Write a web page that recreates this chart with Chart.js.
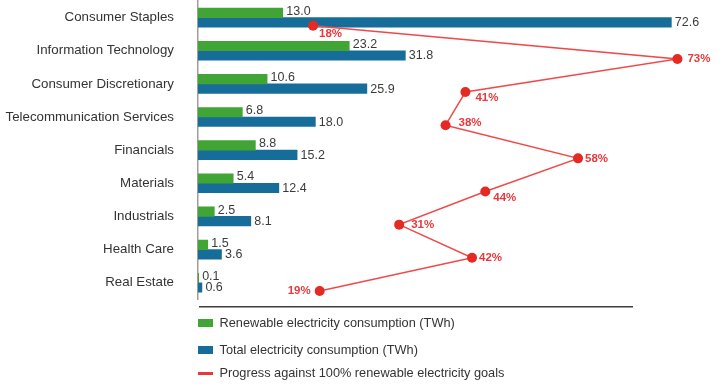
<!DOCTYPE html>
<html>
<head>
<meta charset="utf-8">
<script src="https://cdn.jsdelivr.net/npm/chart.js@4.4.1/dist/chart.umd.min.js"></script>
<style>
  html, body { margin: 0; padding: 0; background: #fff; }
  #wrap { position: relative; width: 723px; height: 392px; }
  #legend { position: absolute; left: 0; top: 0; font: 12.75px "Liberation Sans", Arial, sans-serif; color: #333; }
  .item { position: absolute; left: 198px; height: 20px; line-height: 20px; white-space: nowrap; }
  .sw { position: absolute; left: 0; }
  .txt { position: absolute; left: 21.5px; top: 0; }
</style>
</head>
<body>
<div id="wrap">
  <canvas id="chart" width="723" height="392"></canvas>
  <div id="legend"></div>
</div>
<script>
// data
const categories = ['Consumer Staples', 'Information Technology', 'Consumer Discretionary',
  'Telecommunication Services', 'Financials', 'Materials', 'Industrials', 'Health Care', 'Real Estate'];
const renewable = [13.0, 23.2, 10.6, 6.8, 8.8, 5.4, 2.5, 1.5, 0.1];
const total = [72.6, 31.8, 25.9, 18.0, 15.2, 12.4, 8.1, 3.6, 0.6];
const progress = [18, 73, 41, 38, 58, 44, 31, 42, 19];
const seriesNames = ['Renewable electricity consumption (TWh)', 'Total electricity consumption (TWh)',
  'Progress against 100% renewable electricity goals'];

const GREEN = '#40a535';
const BLUE = '#176d99';
const RED = '#e42a22';
const RED_LINE = '#ef4a4a';
const FONT = '"Liberation Sans", Arial, Helvetica, sans-serif';

// the red line sits a little below the middle of each category in the original
const LINE_DROP = 8.2;
// where each % label sits relative to its point
const pctShift = [[6, 8], [10, 0], [10, 6], [13, -2], [7, 0], [8, 6], [12, 0], [7, 0], [-9, 0]];

const labelPlugin = {
  id: 'labelPlugin',
  beforeDatasetDraw(chart, args) {
    if (args.index === 2) {
      chart.ctx.save();
      chart.ctx.translate(0, LINE_DROP);
    }
  },
  afterDatasetDraw(chart, args) {
    if (args.index === 2) chart.ctx.restore();
  },
  afterDatasetsDraw(chart) {
    const c = chart.ctx;
    const area = chart.chartArea;
    c.save();
    // bottom rule
    c.strokeStyle = '#3c3c3c';
    c.lineWidth = 1.5;
    c.beginPath();
    c.moveTo(area.left + 1, area.bottom + 7.5);
    c.lineTo(area.left + 435, area.bottom + 7.5);
    c.stroke();

    c.font = '12.5px ' + FONT;
    c.fillStyle = '#3b3b3b';
    c.textAlign = 'left';
    c.textBaseline = 'middle';
    [0, 1].forEach(di => {
      const vals = chart.data.datasets[di].data;
      const dy = di === 0 ? -1.5 : 0.5;
      chart.getDatasetMeta(di).data.forEach((bar, i) => {
        c.fillText(vals[i].toFixed(1), bar.x + 3.5, bar.y + dy);
      });
    });

    c.font = 'bold 11.5px ' + FONT;
    c.fillStyle = '#e8383c';
    chart.getDatasetMeta(2).data.forEach((pt, i) => {
      const [dx, dy] = pctShift[i];
      c.textAlign = dx < 0 ? 'right' : 'left';
      c.fillText(progress[i] + '%', pt.x + dx, pt.y + LINE_DROP + dy);
    });
    c.restore();
  }
};

const ctx = document.getElementById('chart').getContext('2d');
new Chart(ctx, {
  type: 'bar',
  data: {
    labels: categories,
    datasets: [
      { label: seriesNames[0], data: renewable, backgroundColor: GREEN, barThickness: 9.5, order: 2 },
      { label: seriesNames[1], data: total, backgroundColor: BLUE, barThickness: 9.5, order: 2 },
      {
        type: 'line', label: seriesNames[2], data: progress, xAxisID: 'xPct',
        borderColor: RED_LINE, borderWidth: 1.5,
        pointRadius: 5, pointBackgroundColor: RED, pointBorderWidth: 0,
        tension: 0, clip: false, order: 1
      }
    ]
  },
  options: {
    indexAxis: 'y',
    responsive: false,
    animation: false,
    layout: { autoPadding: false, padding: { top: 1, right: 33, bottom: 92.7, left: 0 } },
    scales: {
      x: { type: 'linear', display: false, min: 0, max: 75.46, bounds: 'data', beginAtZero: false },
      xPct: { type: 'linear', display: false, min: 0.634, max: 74.9, bounds: 'data', beginAtZero: false },
      y: {
        type: 'category',
        grid: { display: false },
        border: { display: true, color: '#a19c97', width: 1.5 },
        ticks: { padding: 16, color: '#333', font: { family: FONT, size: 13.3 } },
        afterFit: s => { s.width = 198; s.paddingTop = 0; s.paddingBottom = 0; }
      }
    },
    plugins: { legend: { display: false }, tooltip: { enabled: false } }
  },
  plugins: [labelPlugin]
});

// legend, stacked down the left as in the reference
const legend = document.getElementById('legend');
const legendItems = [
  { name: seriesNames[0], color: GREEN, w: 14.5, h: 7.5, mid: 322.8 },
  { name: seriesNames[1], color: BLUE, w: 14.5, h: 7.5, mid: 350 },
  { name: seriesNames[2], color: '#e8383c', w: 15, h: 3.5, mid: 373.4 }
];
legendItems.forEach(it => {
  const d = document.createElement('div');
  d.className = 'item';
  d.style.top = (it.mid - 10) + 'px';
  d.innerHTML = `<span class="sw" style="top:${10 - it.h / 2}px;width:${it.w}px;height:${it.h}px;background:${it.color}"></span><span class="txt">${it.name}</span>`;
  legend.appendChild(d);
});
</script>
</body>
</html>
